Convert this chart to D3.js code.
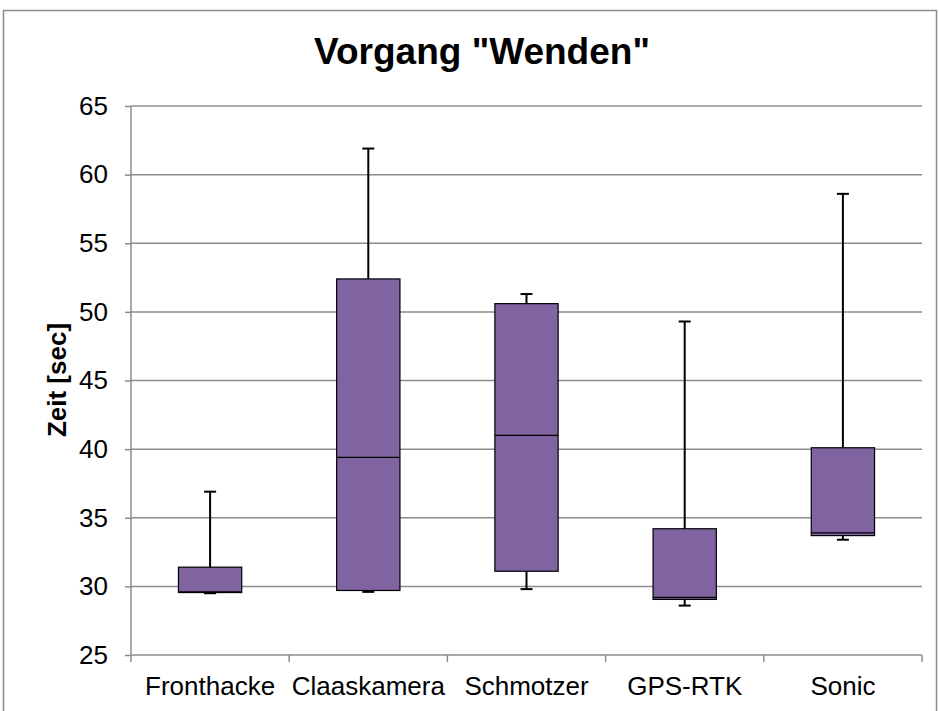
<!DOCTYPE html>
<html>
<head>
<meta charset="utf-8">
<script src="https://cdn.jsdelivr.net/npm/d3@7"></script>
<style>
  body { margin: 0; background: #fff; }
  svg { display: block; font-family: "Liberation Sans", Arial, sans-serif; }
</style>
</head>
<body>
<svg id="chart" width="939" height="711"></svg>
<script>
// box plot data
var categories = ['Fronthacke', 'Claaskamera', 'Schmotzer', 'GPS-RTK', 'Sonic'];
var minValues    = [29.5, 29.6, 29.8, 28.6, 33.4];
var q1Values     = [29.55, 29.7, 31.1, 29.05, 33.7];
var medianValues = [29.6, 39.4, 41.0, 29.2, 33.9];
var q3Values     = [31.4, 52.4, 50.6, 34.2, 40.1];
var maxValues    = [36.9, 61.9, 51.3, 49.3, 58.6];
var yTicks = [25, 30, 35, 40, 45, 50, 55, 60, 65];

var svg = d3.select('#chart');
var plotLeft = 131, plotRight = 922, plotTop = 106, plotBottom = 655;
var fontFam = '"Liberation Sans", Arial, sans-serif';

// outer chart border
svg.append('rect')
  .attr('x', 3.5).attr('y', 10.5)
  .attr('width', 933).attr('height', 720)
  .attr('fill', 'none').attr('stroke', '#8c8c8c').attr('stroke-width', 1.5);

var x = d3.scaleBand().domain(categories).range([plotLeft, plotRight]);
var y = d3.scaleLinear().domain([25, 65]).range([plotBottom, plotTop]);

// gridlines
svg.append('g').selectAll('line').data(yTicks.slice(1)).enter().append('line')
  .attr('x1', plotLeft).attr('x2', plotRight)
  .attr('y1', function(d){ return y(d); }).attr('y2', function(d){ return y(d); })
  .attr('stroke', '#8c8c8c').attr('stroke-width', 1.5);

// y axis
var yAxis = svg.append('g').attr('transform', 'translate(' + plotLeft + ',0)')
  .call(d3.axisLeft(y).tickValues(yTicks).tickSize(6).tickPadding(17));
yAxis.selectAll('path, line').attr('stroke', '#8c8c8c').attr('stroke-width', 1.5);
yAxis.select('.domain').attr('d', 'M0,' + plotTop + 'V' + plotBottom);
yAxis.selectAll('text').attr('font-size', 26).attr('fill', '#000')
  .attr('font-family', fontFam);

// x axis
var xAxis = svg.append('g').attr('transform', 'translate(0,' + plotBottom + ')')
  .call(d3.axisBottom(x).tickSize(0).tickPadding(22));
xAxis.select('.domain').attr('stroke', '#8c8c8c').attr('stroke-width', 1.5)
  .attr('d', 'M' + plotLeft + ',0H' + plotRight);
xAxis.selectAll('text').attr('font-size', 26).attr('fill', '#000')
  .attr('font-family', fontFam);
// category boundary ticks
var edges = categories.map(function(c){ return x(c); }).concat([plotRight]);
xAxis.selectAll('.edge').data(edges).enter().append('line')
  .attr('x1', function(d){ return d; }).attr('x2', function(d){ return d; })
  .attr('y1', 0).attr('y2', 7)
  .attr('stroke', '#8c8c8c').attr('stroke-width', 1.5);

// boxes
var boxW = x.bandwidth() * 0.4;
var capW = 12;
var boxes = svg.append('g').selectAll('g').data(categories).enter().append('g');

boxes.append('line')
  .attr('x1', function(d){ return x(d) + x.bandwidth() / 2; })
  .attr('x2', function(d){ return x(d) + x.bandwidth() / 2; })
  .attr('y1', function(d, i){ return y(maxValues[i]); })
  .attr('y2', function(d, i){ return y(minValues[i]); })
  .attr('stroke', '#000').attr('stroke-width', 2);

[maxValues, minValues].forEach(function(arr){
  boxes.append('line')
    .attr('x1', function(d){ return x(d) + x.bandwidth() / 2 - capW / 2; })
    .attr('x2', function(d){ return x(d) + x.bandwidth() / 2 + capW / 2; })
    .attr('y1', function(d, i){ return y(arr[i]); })
    .attr('y2', function(d, i){ return y(arr[i]); })
    .attr('stroke', '#000').attr('stroke-width', 2);
});

boxes.append('rect')
  .attr('x', function(d){ return x(d) + (x.bandwidth() - boxW) / 2; })
  .attr('width', boxW)
  .attr('y', function(d, i){ return y(q3Values[i]); })
  .attr('height', function(d, i){ return y(q1Values[i]) - y(q3Values[i]); })
  .attr('fill', '#8064a2').attr('stroke', '#000').attr('stroke-width', 1.2);

boxes.append('line')
  .attr('x1', function(d){ return x(d) + (x.bandwidth() - boxW) / 2; })
  .attr('x2', function(d){ return x(d) + (x.bandwidth() + boxW) / 2; })
  .attr('y1', function(d, i){ return y(medianValues[i]); })
  .attr('y2', function(d, i){ return y(medianValues[i]); })
  .attr('stroke', '#000').attr('stroke-width', 1.2);

// title
svg.append('text')
  .attr('x', 482).attr('y', 64)
  .attr('text-anchor', 'middle')
  .attr('font-size', 37).attr('font-weight', 'bold')
  .text('Vorgang "Wenden"');

// y label
svg.append('text')
  .attr('transform', 'translate(66,380) rotate(-90)')
  .attr('text-anchor', 'middle')
  .attr('font-size', 26).attr('font-weight', 'bold')
  .text('Zeit [sec]');
</script>
</body>
</html>
